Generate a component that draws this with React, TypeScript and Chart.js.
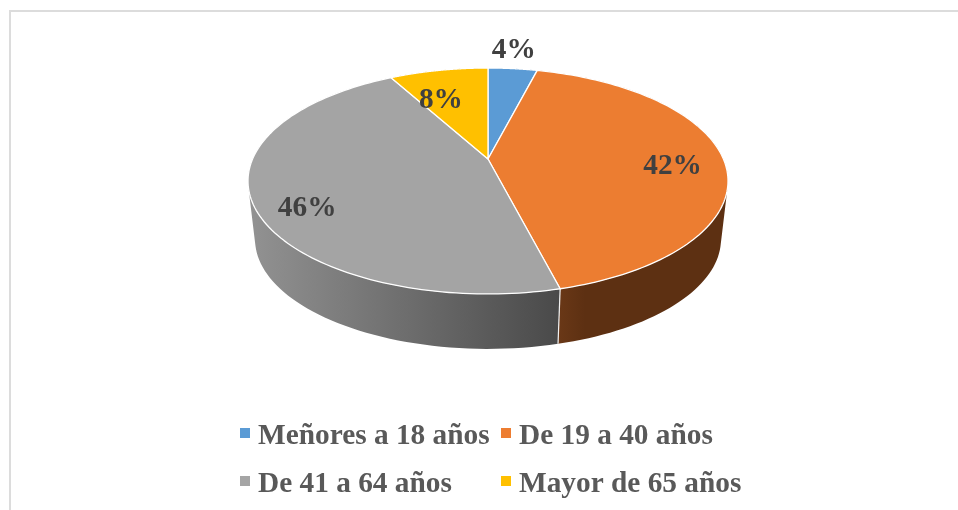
import React, { useEffect, useRef } from "react";
import { Chart, registerables } from "chart.js";

Chart.register(...registerables);

const categories = ["Meñores a 18 años", "De 19 a 40 años", "De 41 a 64 años", "Mayor de 65 años"];
const values = [4, 42, 46, 8];
const topColors = ["#5b9bd5", "#ec7d31", "#a4a4a4", "#ffc000"];
const legendColors = ["#5b9bd5", "#ed7d31", "#a5a5a5", "#ffc000"];
const sideStops: [string, string][] = [
  ["#2f5f8c", "#2f5f8c"],
  ["#6a3817", "#5d3012"],
  ["#929292", "#4a4a4a"],
  ["#8a6a00", "#8a6a00"],
];

const TOP = { rx: 235.4, ry: 108.7, p: 0.1947, dy: 0 };
const BOTTOM = { rx: 228.5, ry: 105.4, p: 0.1947, dy: 59 };
const LABEL_RADIUS = [1.2, 0.78, 0.78, 0.72];
const LABEL_NUDGE = [[-3, -4], [1, 7], [0, 16], [-10, 8]];
const LABEL_FONT = 'bold 29.33px "Liberation Serif"';
const LEGEND_FONT = 'bold 29.33px "Liberation Serif"';

function project(cx: number, cy: number, a: number, k: typeof TOP, r = 1) {
  const u = Math.cos(a) * r;
  const v = Math.sin(a) * r;
  const w = 1 - k.p * v;
  return { x: cx + (k.rx * u) / w, y: cy + k.dy + (k.ry * v) / w };
}

function trace(ctx: CanvasRenderingContext2D, cx: number, cy: number, a0: number, a1: number, k: typeof TOP, move: boolean) {
  const steps = 120;
  for (let i = 0; i <= steps; i++) {
    const p = project(cx, cy, a0 + ((a1 - a0) * i) / steps, k);
    if (i === 0 && move) ctx.moveTo(p.x, p.y);
    else ctx.lineTo(p.x, p.y);
  }
}

const frame = {
  id: "frame",
  beforeDraw(chart: any) {
    const ctx = chart.ctx;
    ctx.save();
    ctx.fillStyle = "#dcdcdc";
    ctx.fillRect(9, 10, 2, chart.height - 10);
    ctx.fillRect(9, 10, chart.width - 9, 2);
    ctx.restore();
  },
};

const pie3d = {
  id: "pie3d",
  beforeDatasetDraw(chart: any) {
    const ctx: CanvasRenderingContext2D = chart.ctx;
    const arcs = chart.getDatasetMeta(0).data;
    const cx = arcs[0].x;
    const cy = arcs[0].y;
    ctx.save();
    // sides: swept quads between the two rims, all wound the same way and filled as one path
    arcs.forEach((arc: any, i: number) => {
      const g = ctx.createLinearGradient(i === 1 ? 558 : 250, 0, i === 1 ? 585 : 558, 0);
      g.addColorStop(0, sideStops[i][0]);
      g.addColorStop(1, sideStops[i][1]);
      ctx.fillStyle = g;
      ctx.beginPath();
      const n = 90;
      for (let s = 0; s < n; s++) {
        const a0 = arc.startAngle + ((arc.endAngle - arc.startAngle) * s) / n;
        const a1 = arc.startAngle + ((arc.endAngle - arc.startAngle) * (s + 1)) / n;
        const q = [project(cx, cy, a0, TOP), project(cx, cy, a1, TOP), project(cx, cy, a1, BOTTOM), project(cx, cy, a0, BOTTOM)];
        let area = 0;
        q.forEach((p, k) => {
          const o = q[(k + 1) % 4];
          area += p.x * o.y - o.x * p.y;
        });
        if (area < 0) q.reverse();
        ctx.moveTo(q[0].x, q[0].y);
        ctx.lineTo(q[1].x, q[1].y);
        ctx.lineTo(q[2].x, q[2].y);
        ctx.lineTo(q[3].x, q[3].y);
        ctx.closePath();
      }
      ctx.fill("nonzero");
    });
    // visible slice seams on the side
    ctx.strokeStyle = "#f2f2f2";
    ctx.lineWidth = 1.2;
    arcs.forEach((arc: any) => {
      if (Math.sin(arc.endAngle) > 0) {
        const a = project(cx, cy, arc.endAngle, TOP);
        const b = project(cx, cy, arc.endAngle, BOTTOM);
        ctx.beginPath();
        ctx.moveTo(a.x, a.y);
        ctx.lineTo(b.x, b.y);
        ctx.stroke();
      }
    });
    // top faces
    arcs.forEach((arc: any, i: number) => {
      ctx.beginPath();
      ctx.moveTo(cx, cy);
      trace(ctx, cx, cy, arc.startAngle, arc.endAngle, TOP, false);
      ctx.closePath();
      ctx.fillStyle = topColors[i];
      ctx.fill();
      ctx.strokeStyle = "#ffffff";
      ctx.lineWidth = 1.3;
      ctx.lineJoin = "round";
      ctx.stroke();
    });
    // percent labels
    ctx.font = LABEL_FONT;
    ctx.fillStyle = "#404040";
    ctx.textAlign = "center";
    ctx.textBaseline = "middle";
    const total = values.reduce((s, v) => s + v, 0);
    arcs.forEach((arc: any, i: number) => {
      const mid = (arc.startAngle + arc.endAngle) / 2;
      const p = project(cx, cy, mid, TOP, LABEL_RADIUS[i]);
      ctx.fillText(`${Math.round((values[i] / total) * 100)}%`, p.x + LABEL_NUDGE[i][0], p.y + LABEL_NUDGE[i][1]);
    });
    ctx.restore();
    return false;
  },
};

const legend2col = {
  id: "legend2col",
  afterDraw(chart: any) {
    const ctx: CanvasRenderingContext2D = chart.ctx;
    const colX = [240, 501];
    const rowY = [433, 481];
    ctx.save();
    ctx.font = LEGEND_FONT;
    ctx.textAlign = "left";
    ctx.textBaseline = "middle";
    categories.forEach((c, i) => {
      const x = colX[i % 2];
      const y = rowY[Math.floor(i / 2)];
      ctx.fillStyle = legendColors[i];
      ctx.fillRect(x, y - 5, 10, 10);
      ctx.fillStyle = "#595959";
      ctx.fillText(c, x + 18, y + 3);
    });
    ctx.restore();
  },
};

export default function App() {
  const ref = useRef<HTMLCanvasElement>(null);
  useEffect(() => {
    document.body.style.margin = "0";
    const chart = new Chart(ref.current!, {
      type: "pie",
      data: {
        labels: categories,
        datasets: [{ data: values, backgroundColor: topColors, borderColor: "#ffffff", borderWidth: 0 }],
      },
      options: {
        animation: false,
        responsive: false,
        layout: { padding: { left: 18, right: 0, top: 0, bottom: 192 } },
        plugins: { legend: { display: false }, tooltip: { enabled: false } },
      },
      plugins: [frame, pie3d, legend2col],
    } as any);
    return () => chart.destroy();
  }, []);
  return <canvas ref={ref} width={958} height={510} style={{ display: "block", background: "#fff" }} />;
}
